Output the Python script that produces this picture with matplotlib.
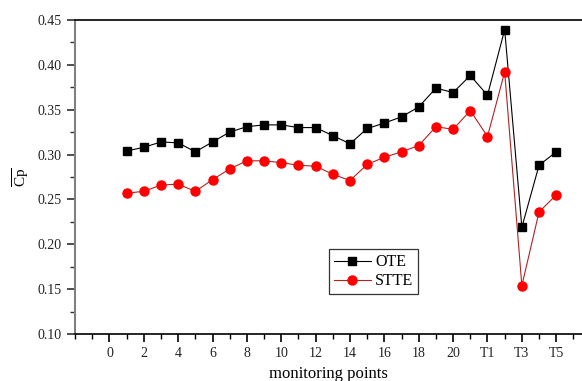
import matplotlib
matplotlib.use("Agg")
import matplotlib.pyplot as plt
from matplotlib.ticker import MultipleLocator

plt.rcParams["font.family"] = ["Liberation Serif", "DejaVu Serif"]
plt.rcParams["mathtext.fontset"] = "custom"
plt.rcParams["mathtext.rm"] = "Liberation Serif"

points = list(range(1, 27))
ote = [0.304, 0.308, 0.314, 0.313, 0.303, 0.314, 0.325, 0.331, 0.333, 0.333,
       0.330, 0.330, 0.321, 0.312, 0.329, 0.335, 0.342, 0.353, 0.374, 0.369,
       0.388, 0.366, 0.439, 0.219, 0.288, 0.303]
stte = [0.257, 0.259, 0.266, 0.267, 0.259, 0.272, 0.284, 0.293, 0.293, 0.291,
        0.288, 0.287, 0.278, 0.271, 0.289, 0.297, 0.303, 0.310, 0.331, 0.328,
        0.349, 0.320, 0.392, 0.154, 0.236, 0.255]
tick_pos = list(range(0, 27, 2))
tick_labels = ["0", "2", "4", "6", "8", "10", "12", "14", "16", "18", "20",
               "T1", "T3", "T5"]

fig = plt.figure(figsize=(5.82, 3.81), dpi=100)
ax = fig.add_axes([0.129, 0.123, 0.871, 0.825])

ax.plot(points, ote, color="black", lw=0.8, marker="s", ms=5.5,
        label="OTE")
ax.plot(points, stte, color="#b22222", lw=0.8, marker="o", ms=6.5,
        mfc="red", mec="red", label="STTE")

ax.set_xlim(-2, 27.5)
ax.set_ylim(0.10, 0.45)
ax.set_xticks(tick_pos)
ax.set_xticklabels(tick_labels)
ax.xaxis.set_minor_locator(MultipleLocator(1))
ax.yaxis.set_major_locator(MultipleLocator(0.05))
ax.yaxis.set_minor_locator(MultipleLocator(0.025))
ax.yaxis.set_major_formatter(plt.FormatStrFormatter("%.2f"))

ax.spines["right"].set_visible(False)
ax.spines["left"].set_color("#808080")
ax.spines["left"].set_linewidth(1.5)
ax.spines["bottom"].set_linewidth(1.2)
ax.spines["top"].set_linewidth(1.2)
ax.tick_params(which="major", direction="out", length=6, width=1.2,
               labelsize=10, labelcolor="#222222", top=False, right=False)
ax.tick_params(which="minor", direction="out", length=3.5, width=1,
               top=False, right=False)
ax.tick_params(axis="y", which="both", color="#303030")

ax.set_xlabel("monitoring points", fontsize=12, labelpad=4)
ax.set_ylabel(r"$\overline{\mathrm{Cp}}$", fontsize=11, labelpad=4)

leg = ax.legend(loc="lower left", bbox_to_anchor=(0.501, 0.127),
                borderaxespad=0, fancybox=False, edgecolor="black",
                fontsize=11.5, handlelength=2.3, borderpad=0.3,
                labelspacing=0.2, handletextpad=0.3)
leg.get_frame().set_linewidth(0.9)

fig.savefig("out.png", dpi=100)
